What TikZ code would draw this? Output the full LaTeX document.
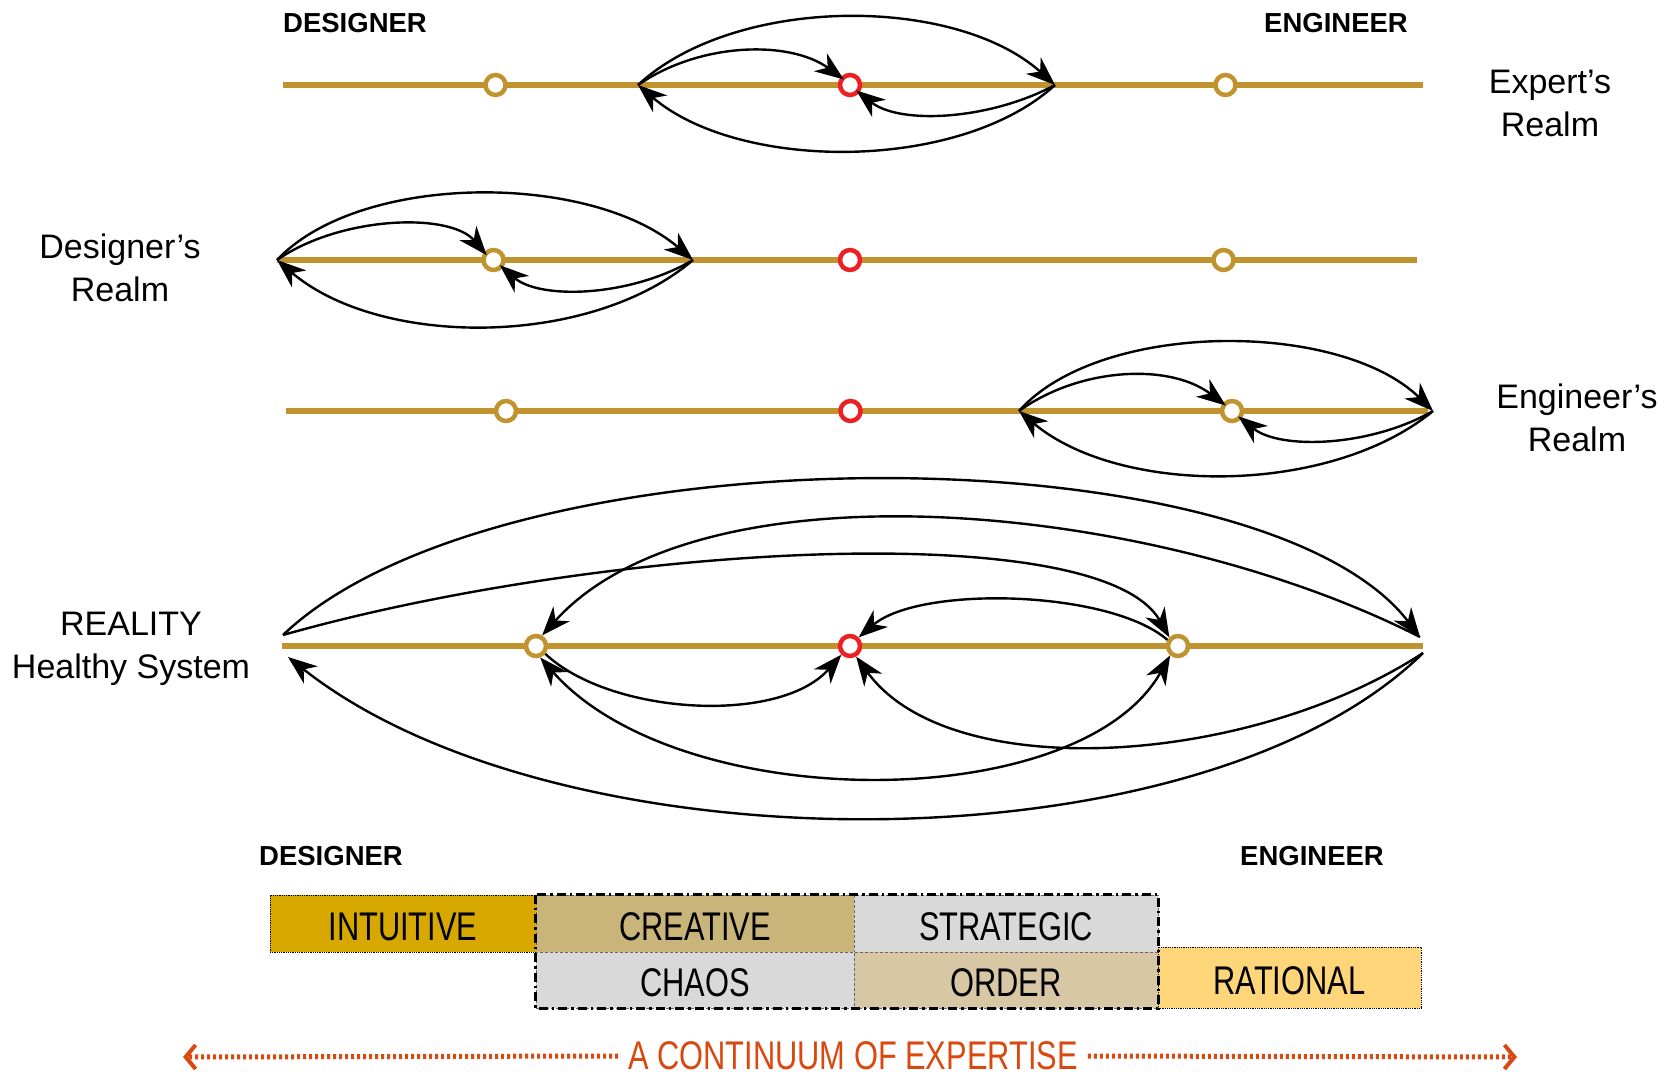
\documentclass[tikz,border=0pt]{standalone}
\usepackage{fontspec}
\setmainfont{Liberation Sans}
\newfontfamily\narrowfont[FakeStretch=0.77]{Liberation Sans}
\usetikzlibrary{arrows.meta}

\definecolor{axisgold}{RGB}{193,147,46}
\definecolor{ringred}{RGB}{237,32,36}
\definecolor{intuitivefill}{RGB}{214,168,0}
\definecolor{creativefill}{RGB}{201,181,122}
\definecolor{greyfill}{RGB}{217,217,217}
\definecolor{orderfill}{RGB}{216,199,164}
\definecolor{rationalfill}{RGB}{255,213,121}
\definecolor{expertise}{RGB}{217,72,15}

% band labels sit a little below the geometric centre of their boxes
\newcommand\bandlabel[1]{\raisebox{-3pt}[\height][0pt]{#1}}

\tikzset{
  flowtip/.tip={Stealth[length=29pt,width=22pt,inset=9pt]}
}

\begin{document}
\begin{tikzpicture}[x=1pt,y=-1pt,
  axis/.style={axisgold, line width=6.5pt},
  ringgold/.style={circle, draw=axisgold, line width=4.5pt, fill=white,
                   minimum size=20pt, inner sep=0pt},
  ringredc/.style={ringgold, draw=ringred},
  flow/.style={line width=2.4pt, -flowtip},
  flowboth/.style={line width=2.4pt, flowtip-flowtip},
  intoring/.style={shorten >=-4pt},
  realm/.style={align=center, font=\fontsize{34}{43}\selectfont, inner sep=0pt},
  head/.style={font=\bfseries\fontsize{27.5}{30}\selectfont, inner sep=0pt},
  band/.style={draw=black!60, densely dashed, line width=0.8pt, inner sep=0pt,
               font=\narrowfont\fontsize{40}{44}\selectfont},
  groupframe/.style={line width=2.4pt, dash pattern=on 9pt off 4pt on 2.5pt off 4pt},
  dotarrow/.style={expertise, line width=5pt, dash pattern=on 3pt off 3pt,
                   -{Straight Barb[length=10pt,width=24pt,line width=4pt]}}
]
\useasboundingbox (0,0) rectangle (1671,1078);

% ---------- headings ----------
\node[head] (desTop) at (355,23.5) {DESIGNER};
\node[head] (engTop) at (1336,23.5) {ENGINEER};

% ---------- row 1: expert's realm ----------
\coordinate (l1) at (283,85);
\coordinate (r1) at (1423,85);
\draw[axis] (l1) -- (r1);
\node[ringgold] (d1) at (495.5,85) {};
\node[ringredc] (m1) at (850,85) {};
\node[ringgold] (e1) at (1225.5,85) {};
\coordinate (a1) at (638,85);
\coordinate (b1) at (1055,85);
\draw[flow] (a1) .. controls (735,-5) and (955,-5) .. (b1);
\draw[flow, intoring] (a1) .. controls (700,42) and (790,40) .. (m1.140);
\draw[flow, intoring] (b1) .. controls (990,120) and (900,125) .. (m1.-40);
\draw[flow] (b1) .. controls (960,172) and (740,172) .. (a1);
\node[realm] (expert) at (1550,103.5) {Expert’s\\Realm};

% ---------- row 2: designer's realm ----------
\coordinate (l2) at (277,260);
\coordinate (r2) at (1417,260);
\draw[axis] (l2) -- (r2);
\node[ringgold] (d2) at (493.5,260) {};
\node[ringredc] (m2) at (850,260) {};
\node[ringgold] (e2) at (1223.5,260) {};
\coordinate (a2) at (277,260);
\coordinate (b2) at (693,260);
\draw[flow] (a2) .. controls (360,172) and (590,172) .. (b2);
\draw[flow, intoring] (a2) .. controls (340,216) and (450,212) .. (d2.140);
\draw[flow, intoring] (b2) .. controls (630,297) and (540,300) .. (d2.-40);
\draw[flow] (b2) .. controls (590,348) and (380,348) .. (a2);
\node[realm] (designer) at (120,267.5) {Designer’s\\Realm};

% ---------- row 3: engineer's realm ----------
\coordinate (l3) at (286,411);
\coordinate (r3) at (1428,411);
\draw[axis] (l3) -- (r3);
\node[ringgold] (d3) at (506,411) {};
\node[ringredc] (m3) at (850.5,411) {};
\node[ringgold] (e3) at (1232,411) {};
\coordinate (a3) at (1019,411);
\coordinate (b3) at (1433,411);
\draw[flow] (a3) .. controls (1100,320) and (1340,320) .. (b3);
\draw[flow, intoring] (a3) .. controls (1080,367) and (1170,363) .. (e3.140);
\draw[flow, intoring] (b3) .. controls (1370,447) and (1280,450) .. (e3.-40);
\draw[flow] (b3) .. controls (1330,496) and (1120,496) .. (a3);
\node[realm] (engineer) at (1577,417.5) {Engineer’s\\Realm};

% ---------- row 4: reality ----------
\coordinate (l4) at (282,646);
\coordinate (r4) at (1423,646);
\draw[axis] (l4) -- (r4);
\node[ringgold] (d4) at (536,646) {};
\node[ringredc] (m4) at (850,646) {};
\node[ringgold] (e4) at (1178,646) {};
% loose ends just above and below the two line ends
\coordinate (l4up) at (283,635);
\coordinate (l4dn) at (288,657);
\coordinate (r4up) at (1420,637);
\coordinate (r4dn) at (1423,653);
\draw[flow] (l4up) .. controls (500,428) and (1260,428) .. (r4up);
\draw[flow] (l4up) .. controls (600,545) and (1100,515) .. (e4.135);
\draw[flow] (r4up) .. controls (1150,500) and (700,460) .. (d4.60);
\draw[flow] (e4.150) .. controls (1110,590) and (920,585) .. (m4.45);
\draw[flow] (d4.-40) .. controls (610,715) and (780,725) .. (m4.-135);
\draw[flowboth] (d4.-70) .. controls (680,816) and (1080,816) .. (e4.-130);
\draw[flow] (r4dn) .. controls (1250,766) and (950,786) .. (m4.-60);
\draw[flow] (r4dn) .. controls (1200,872) and (560,872) .. (l4dn);
\node[realm] (reality) at (131,649) {REALITY\\Healthy System};

% ---------- expertise bands ----------
\node[head] (desBot) at (331,856) {DESIGNER};
\node[head] (engBot) at (1312,856) {ENGINEER};

\node[band, fill=intuitivefill, draw=black, densely dotted, minimum width=266pt, minimum height=57pt]
  (intuitive) at (403,923.5) {\bandlabel{INTUITIVE}};
\node[band, fill=creativefill, minimum width=318pt, minimum height=57pt]
  (creative) at (695,923.5) {\bandlabel{CREATIVE}};
\node[band, fill=greyfill, minimum width=304pt, minimum height=57pt]
  (strategic) at (1006,923.5) {\bandlabel{STRATEGIC}};
\node[band, fill=greyfill, minimum width=318pt, minimum height=56pt]
  (chaos) at (695,980) {\bandlabel{CHAOS}};
\node[band, fill=orderfill, minimum width=304pt, minimum height=56pt]
  (order) at (1006,980) {\bandlabel{ORDER}};
\node[band, fill=rationalfill, draw=black, densely dotted, minimum width=263pt, minimum height=61pt]
  (rational) at (1289.5,977.5) {\bandlabel{RATIONAL}};
\draw[groupframe] (creative.north west) rectangle (order.south east);

% ---------- continuum arrow ----------
\node[text=expertise, font=\narrowfont\fontsize{40}{44}\selectfont,
      inner xsep=10pt, inner ysep=0pt]
  (cont) at (853,1056) {A CONTINUUM OF EXPERTISE};
\coordinate (lt) at (183,1057);
\coordinate (rt) at (1517,1057);
\draw[dotarrow] (cont.west) -- (lt);
\draw[dotarrow] (cont.east) -- (rt);
\end{tikzpicture}
\end{document}
